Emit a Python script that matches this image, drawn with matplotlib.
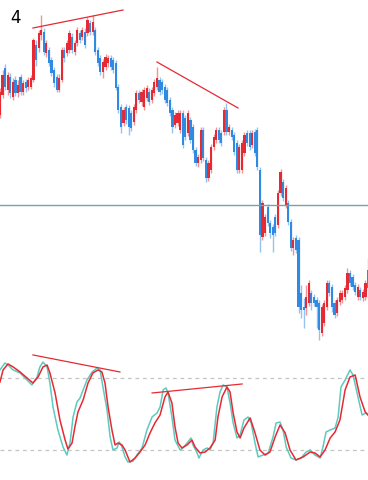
import numpy as np
import matplotlib.pyplot as plt

# CANDLES (price units, up = higher)
opens = [285, 305, 332, 310, 323, 303, 320, 307, 323, 308, 318, 313, 313, 320, 355, 352, 365, 368, 347, 350,
         340, 330, 323, 310, 320, 350, 347, 350, 363, 348, 357, 367, 363, 368, 367, 377, 368, 370, 350, 342,
         328, 333, 337, 342, 340, 337, 313, 293, 277, 293, 292, 287, 278, 290, 307, 298, 293, 302, 308, 300,
         307, 313, 320, 318, 313, 310, 300, 290, 275, 277, 270, 287, 282, 267, 280, 273, 250, 237, 240, 270,
         240, 222, 230, 253, 260, 270, 267, 268, 290, 268, 270, 265, 257, 230, 230, 247, 267, 267, 255, 268,
         270, 230, 163, 167, 193, 177, 173, 183, 175, 207, 218, 195, 197, 178, 152, 162, 160, 107, 93, 92,
         97, 107, 103, 100, 97, 67, 77, 93, 117, 113, 97, 87, 98, 100, 103, 110, 127, 123, 115, 103,
         110, 102, 103, 130]
closes = [308, 325, 313, 325, 307, 318, 307, 315, 308, 317, 312, 320, 322, 360, 340, 367, 370, 348, 357, 337,
          327, 317, 310, 322, 350, 342, 357, 367, 350, 357, 370, 360, 370, 355, 380, 368, 378, 348, 337, 328,
          338, 343, 342, 333, 330, 312, 290, 273, 290, 280, 273, 272, 293, 307, 300, 308, 310, 312, 298, 310,
          318, 322, 308, 310, 300, 297, 287, 273, 285, 287, 287, 255, 263, 287, 260, 250, 237, 243, 270, 242,
          222, 237, 253, 263, 270, 260, 257, 290, 268, 273, 263, 248, 230, 253, 257, 265, 257, 253, 267, 247,
          233, 165, 197, 183, 177, 167, 165, 167, 207, 228, 202, 212, 178, 152, 160, 150, 93, 90, 90, 103,
          117, 97, 97, 93, 70, 93, 97, 117, 107, 93, 85, 100, 107, 107, 112, 127, 117, 113, 108, 113,
          103, 108, 117, 112]
highs = [312, 330, 336, 328, 327, 322, 324, 320, 326, 320, 321, 323, 325, 362, 360, 370, 385, 372, 360, 353,
         343, 333, 326, 326, 353, 353, 360, 370, 367, 360, 373, 370, 373, 372, 383, 380, 385, 373, 353, 345,
         341, 346, 345, 345, 343, 340, 316, 296, 293, 296, 295, 290, 296, 310, 310, 311, 313, 315, 312, 313,
         321, 333, 323, 321, 316, 313, 303, 293, 288, 290, 290, 290, 285, 290, 283, 276, 253, 246, 273, 273,
         243, 240, 256, 266, 273, 273, 270, 293, 297, 276, 273, 268, 260, 256, 260, 268, 270, 270, 270, 271,
         273, 233, 200, 186, 196, 180, 176, 186, 210, 231, 221, 215, 200, 181, 163, 165, 163, 115, 102, 115,
         120, 110, 106, 103, 100, 96, 100, 120, 120, 116, 100, 103, 110, 110, 115, 132, 130, 126, 118, 116,
         113, 111, 120, 142]
lows = [282, 302, 310, 305, 302, 300, 304, 303, 305, 305, 308, 310, 311, 318, 334, 348, 360, 345, 343, 334,
        324, 313, 308, 308, 318, 338, 344, 347, 347, 345, 354, 357, 360, 352, 364, 365, 365, 345, 334, 325,
        322, 330, 333, 330, 327, 310, 287, 267, 274, 276, 265, 269, 275, 287, 297, 294, 290, 299, 295, 297,
        304, 310, 305, 306, 297, 294, 284, 267, 272, 274, 267, 252, 260, 264, 257, 247, 234, 233, 237, 239,
        218, 219, 227, 250, 257, 257, 254, 265, 265, 265, 260, 245, 227, 227, 227, 244, 254, 250, 252, 244,
        230, 148, 160, 164, 174, 162, 148, 164, 172, 204, 199, 192, 175, 149, 145, 147, 87, 82, 72, 85,
        94, 90, 94, 72, 60, 64, 74, 90, 104, 88, 82, 84, 95, 97, 100, 107, 114, 110, 105, 100,
        100, 99, 100, 109]

# trend lines on price (bar, price)
price_line1 = ([12.8, 47.8], [372, 390])
price_line2 = ([61.0, 92.5], [338, 292])
level_price = 195

# STOCHASTIC (bar position, value)
k_x = [0, 1.9, 3.1, 5.1, 7.8, 10.5, 12.4, 14.4, 15.5, 16.7, 18.3, 19.4, 20.6, 22.5, 24.5, 26.0, 27.2, 28.4,
       29.9, 31.1, 32.3, 33.8, 35.8, 37.7, 38.9, 40.0, 41.6, 42.8, 43.9, 45.5, 46.3, 47.4, 48.6, 49.7, 51.7,
       53.2, 55.2, 57.1, 59.1, 61.0, 62.2, 63.4, 64.5, 65.3, 66.8, 68.0, 70.0, 71.1, 72.7, 74.2, 75.0, 76.6,
       77.3, 78.9, 80.5, 81.6, 82.8, 84.3, 85.5, 86.7, 88.2, 89.4, 90.6, 92.1, 93.3, 94.8, 96.4, 97.6, 99.1,
       100.3, 102.2, 104.2, 106.1, 107.3, 108.8, 110.0, 111.2, 113.1, 115.0, 117.0, 118.9, 120.5, 122.4,
       124.4, 125.5, 126.7, 128.3, 130.2, 131.4, 132.5, 134.1, 136.0, 137.2, 139.1, 140.7, 142.2, 143.0]
k_val = [86.7, 92.5, 90.8, 86.7, 84.2, 78.3, 74.2, 80.8, 89.2, 93.3, 89.2, 75.8, 55.8, 36.7, 22.5, 15.8, 25.8,
         47.5, 60.0, 63.3, 70.0, 78.3, 85.0, 88.3, 86.7, 72.5, 53.3, 30.8, 20.0, 21.7, 26.7, 22.5, 14.2, 10.0,
         10.8, 15.8, 21.7, 36.7, 47.5, 50.8, 55.8, 70.0, 71.7, 67.5, 47.5, 28.3, 20.0, 21.7, 25.8, 30.0, 24.2,
         17.5, 13.3, 20.0, 21.7, 20.0, 25.8, 55.8, 68.3, 74.2, 72.5, 59.2, 42.5, 30.0, 32.5, 45.0, 47.5, 42.5,
         25.8, 14.2, 15.8, 17.5, 30.8, 42.5, 43.3, 36.7, 22.5, 13.3, 11.7, 13.3, 18.3, 20.0, 15.8, 13.3, 22.5,
         35.0, 36.7, 38.3, 47.5, 72.5, 78.3, 86.7, 82.5, 64.2, 49.2, 50.8, 49.2]
d_x = [0, 1.2, 3.1, 5.1, 7.8, 10.5, 12.8, 14.8, 16.7, 18.3, 19.4, 21.4, 23.3, 25.3, 26.4, 28.0, 29.1, 30.3,
       32.3, 34.2, 36.1, 38.1, 39.6, 40.8, 42.0, 43.5, 44.7, 45.9, 47.4, 48.6, 50.5, 52.5, 54.4, 56.4, 58.3,
       60.2, 62.2, 64.1, 65.3, 66.8, 68.0, 69.2, 70.7, 72.7, 74.6, 75.8, 77.7, 79.7, 81.6, 83.6, 84.7, 86.3,
       88.2, 89.4, 90.6, 92.1, 93.3, 94.8, 97.2, 99.1, 101.0, 103.0, 104.9, 106.9, 108.8, 110.8, 112.7,
       115.0, 117.8, 120.5, 122.4, 124.4, 126.3, 128.3, 130.2, 132.1, 134.1, 136.0, 138.0, 139.9, 141.9, 143.0]
d_val = [76.7, 86.7, 91.7, 89.2, 85.0, 80.0, 75.8, 80.8, 89.2, 90.8, 84.2, 67.5, 45.0, 28.3, 20.8, 25.8, 39.2,
         51.7, 61.7, 75.8, 84.2, 86.7, 85.0, 75.8, 55.8, 36.7, 24.2, 25.8, 24.2, 20.0, 10.0, 13.3, 18.3, 24.2,
         34.2, 42.5, 49.2, 64.2, 68.3, 59.2, 39.2, 25.8, 21.7, 24.2, 28.3, 22.5, 17.5, 18.3, 21.7, 28.3, 47.5,
         64.2, 72.5, 68.3, 50.8, 35.0, 30.0, 38.3, 46.7, 34.2, 20.0, 15.8, 18.3, 30.8, 40.8, 34.2, 20.0, 11.7,
         14.2, 18.3, 17.5, 14.2, 20.0, 30.0, 35.0, 45.0, 70.0, 80.8, 82.5, 64.2, 51.7, 49.2]
stoch_line1 = ([12.8, 46.6], [99.2, 85.0])
stoch_line2 = ([59.1, 94.1], [67.5, 75.0])
levels = [80, 20]

RED = '#e52a33'
BLUE = '#2f8ae4'

fig = plt.figure(figsize=(3.68, 4.80), dpi=100)
ax = fig.add_axes([0, 0.28125, 1, 0.71875])
ax2 = fig.add_axes([0, 0, 1, 0.2708])

o = np.array(opens)
c = np.array(closes)
x = np.arange(len(o))
up = c >= o
cols = np.where(up, RED, BLUE)

# wicks then bodies
ax.vlines(x, lows, highs, colors=cols, linewidth=1.0, alpha=0.5)
ax.bar(x, np.abs(c - o) + 0.5, bottom=np.minimum(o, c), width=0.85, color=cols, linewidth=0)

ax.axhline(level_price, color='#7e9fa6', linewidth=1.0)
ax.plot(*price_line1, color=RED, linewidth=0.9)
ax.plot(*price_line2, color=RED, linewidth=0.9)

ax.set_xlim(0, 143)
ax.set_ylim(55, 400)
ax.axis('off')

fig.text(10 / 368, 1 - 18 / 480, '4', fontsize=12, color='black', va='center', ha='left')

for lv in levels:
    ax2.axhline(lv, color='#c4c4c4', linewidth=0.9, linestyle=(0, (3, 3)))
ax2.plot(k_x, k_val, color='#5ec9bf', linewidth=1.1)
ax2.plot(d_x, d_val, color=RED, linewidth=1.1)
ax2.plot(*stoch_line1, color=RED, linewidth=0.9)
ax2.plot(*stoch_line2, color=RED, linewidth=0.9)
ax2.set_xlim(0, 143)
ax2.set_ylim(-5, 103.3)
ax2.axis('off')

fig.savefig('out.png', dpi=100, facecolor='white')
